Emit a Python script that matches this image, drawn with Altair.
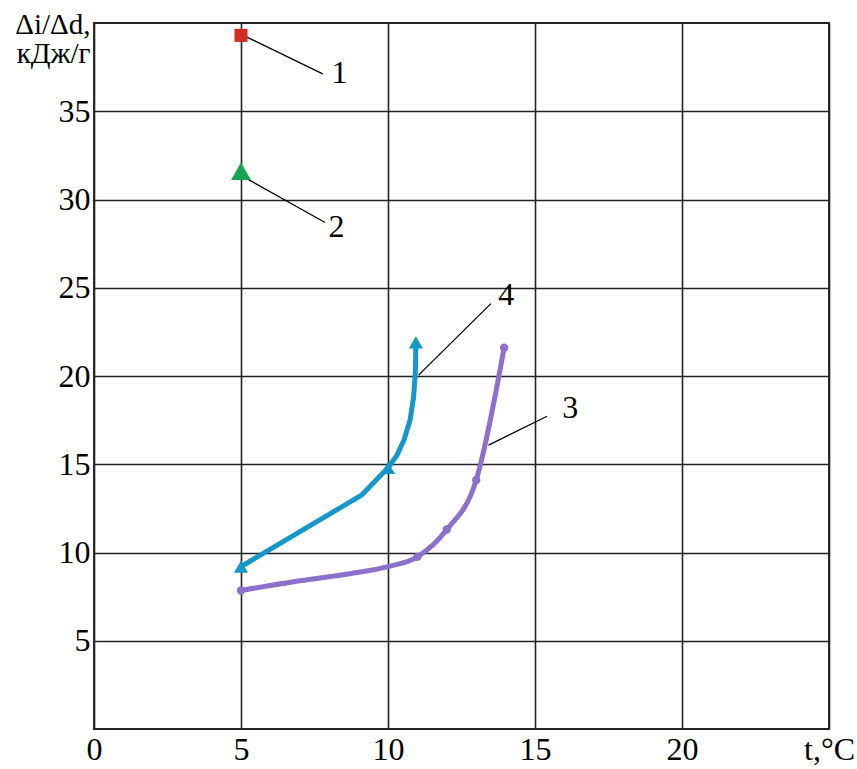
import altair as alt
import pandas as pd

# Curve 3: temperature (°C) and Δi/Δd (kJ/g)
t3 = [5.0, 7.0, 8.7, 10.0, 11.0, 12.0, 13.0, 13.95]
q3 = [7.85, 8.4, 8.8, 9.2, 9.75, 11.3, 14.1, 21.6]
t3_marks = [5.0, 11.0, 12.0, 13.0, 13.95]
q3_marks = [7.85, 9.75, 11.3, 14.1, 21.6]

# Curve 4
t4 = [5.0, 9.1, 10.0, 10.3, 10.55, 10.75, 10.87, 10.93, 10.95]
q4 = [9.2, 13.25, 14.8, 15.5, 16.4, 17.5, 18.8, 20.2, 21.9]
t4_marks = [5.0, 10.0, 10.95]
q4_marks = [9.2, 14.8, 21.9]

# Single measurements 1 and 2
t1, q1 = 5.0, 39.3
t2, q2 = 5.0, 31.6

# Callout labels and their leader lines
label_text = ["1", "2", "3", "4"]
label_t = [8.35, 8.25, 16.2, 14.02]
label_q = [37.15, 28.45, 18.2, 24.6]
lead_t = [5.2, 5.24, 13.42, 11.04]
lead_q = [39.2, 31.14, 16.08, 20.05]
lead_t2 = [7.78, 7.86, 15.41, 13.5]
lead_q2 = [37.12, 28.7, 17.72, 24.1]

x_ticks = [0, 5, 10, 15, 20, 25]
y_ticks = [5, 10, 15, 20, 25, 30, 35]

FONT = "Times New Roman, Liberation Serif, serif"
BLUE = "#1597c9"
PURPLE = "#8b70cc"
RED = "#d42a20"
GREEN = "#19a24f"

xs = alt.Scale(domain=[0, 25], nice=False, zero=False)
ys = alt.Scale(domain=[0, 40], nice=False, zero=False)

x_axis = alt.Axis(
    values=x_ticks, grid=True, gridColor="#222222", gridWidth=1.6,
    domain=False, ticks=False, tickSize=0, labelPadding=5,
    labelFont=FONT, labelFontSize=32, labelColor="black",
    labelExpr="datum.value == 25 ? 't,°C' : datum.label", labelFlush=False,
    title=None,
)
y_axis = alt.Axis(
    values=y_ticks, grid=True, gridColor="#222222", gridWidth=1.6,
    domain=False, ticks=False, tickSize=0, labelPadding=4,
    labelFont=FONT, labelFontSize=32, labelColor="black", labelFlush=False,
    title=["Δi/Δd,", "кДж/г"], titleAngle=0, titleAlign="right",
    titleBaseline="alphabetic", titleX=-4, titleY=10, titleFont=FONT,
    titleFontSize=29, titleFontWeight="normal", titleColor="black",
    titleLineHeight=29,
)

df3 = pd.DataFrame({"t": t3, "q": q3})
df3m = pd.DataFrame({"t": t3_marks, "q": q3_marks})
df4 = pd.DataFrame({"t": t4, "q": q4})
df4m = pd.DataFrame({"t": t4_marks, "q": q4_marks})
df1 = pd.DataFrame({"t": [t1], "q": [q1]})
df2 = pd.DataFrame({"t": [t2], "q": [q2]})
dlab = pd.DataFrame({"t": label_t, "q": label_q, "s": label_text})
dlead = pd.DataFrame({"t": lead_t, "q": lead_q, "t2": lead_t2, "q2": lead_q2})

base_x = alt.X("t:Q", scale=xs, axis=x_axis)
base_y = alt.Y("q:Q", scale=ys, axis=y_axis)

leaders = alt.Chart(dlead).mark_rule(color="black", strokeWidth=1.3).encode(
    x=base_x, y=base_y, x2="t2:Q", y2="q2:Q",
)

line3 = alt.Chart(df3).mark_line(
    color=PURPLE, strokeWidth=5, interpolate="monotone", strokeCap="round"
).encode(x=base_x, y=base_y)
marks3 = alt.Chart(df3m).mark_point(
    shape="circle", filled=True, size=70, color=PURPLE, opacity=1
).encode(x=base_x, y=base_y)

line4 = alt.Chart(df4).mark_line(
    color=BLUE, strokeWidth=5, interpolate="linear", strokeCap="round",
    strokeJoin="round"
).encode(x=base_x, y=base_y, order="q:Q")
marks4 = alt.Chart(df4m).mark_point(
    shape="triangle-up", filled=True, size=200, color=BLUE, opacity=1
).encode(x=base_x, y=base_y)

pt1 = alt.Chart(df1).mark_point(
    shape="square", filled=True, size=170, color=RED, opacity=1
).encode(x=base_x, y=base_y)
pt2 = alt.Chart(df2).mark_point(
    shape="triangle-up", filled=True, size=400, color=GREEN, opacity=1
).encode(x=base_x, y=base_y)

labels = alt.Chart(dlab).mark_text(
    font=FONT, fontSize=32, color="black", align="center", baseline="middle"
).encode(x=base_x, y=base_y, text="s:N")

chart = alt.layer(
    leaders, line4, marks4, line3, marks3, pt1, pt2, labels
).properties(
    width=735,
    height=706,
    padding={"left": 94, "top": 23, "right": 28, "bottom": 40},
    autosize=alt.AutoSizeParams(type="none"),
    background="white",
).configure_view(
    stroke="#222222", strokeWidth=1.8
)

chart.save("out.html", embed_options={"renderer": "svg", "actions": False})
